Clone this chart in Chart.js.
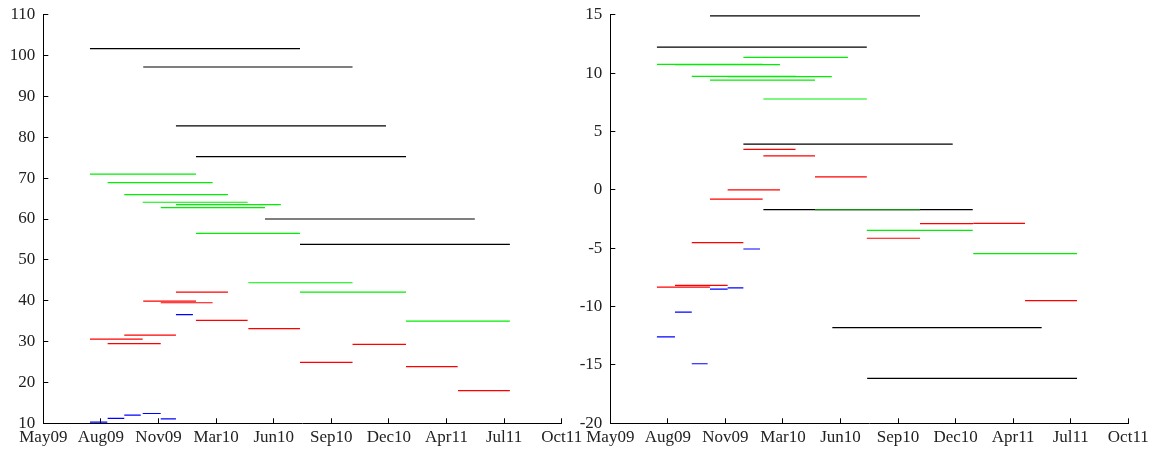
<!DOCTYPE html>
<html>
<head>
<meta charset="utf-8">
<script src="https://cdn.jsdelivr.net/npm/chart.js@4"></script>
<style>
  body { margin: 0; background: #fff; }
  #wrap { position: relative; width: 1163px; height: 452px; }
  .box { position: absolute; top: 0; height: 452px; }
</style>
</head>
<body>
<div id="wrap">
  <div class="box" style="left:0px;width:600px"><canvas id="leftChart"></canvas></div>
  <div class="box" style="left:575px;width:588px"><canvas id="rightChart"></canvas></div>
</div>
<script>
// x is months since 1 May 2009, ticks are spread evenly May09 .. Oct11
const xTickLabels = ['May09', 'Aug09', 'Nov09', 'Mar10', 'Jun10', 'Sep10', 'Dec10', 'Apr11', 'Jul11', 'Oct11']
const xTickVals = xTickLabels.map((l, i) => i * 29 / 9)

// each segment: [start month, end month, value]
const leftBlack = [[2.61, 14.36, 101.7], [5.59, 17.3, 97.2], [7.42, 19.17, 82.8], [8.54, 20.29, 75.25], [12.4, 24.14, 60.0], [14.36, 26.1, 53.8]]
const leftGreen = [[2.61, 8.54, 71.0], [3.6, 9.47, 68.9], [4.53, 10.33, 65.95], [5.56, 11.43, 64.1], [7.42, 13.29, 63.5], [6.57, 12.4, 62.8],
  [8.54, 14.36, 56.5], [11.47, 17.3, 44.4], [14.36, 20.29, 42.1], [20.29, 26.1, 35.0]]
const leftRed = [[2.61, 5.56, 30.6], [3.6, 6.57, 29.5], [4.53, 7.42, 31.6], [5.59, 8.54, 39.9], [6.57, 9.47, 39.5], [7.42, 10.33, 42.1],
  [8.54, 11.43, 35.2], [11.47, 14.36, 33.15], [17.3, 20.29, 29.3], [14.36, 17.3, 24.9], [20.29, 23.18, 23.85], [23.2, 26.1, 18.0]]
const leftBlue = [[2.61, 3.58, 10.3], [3.6, 4.53, 11.2], [4.53, 5.45, 12.0], [5.56, 6.57, 12.4], [6.57, 7.42, 11.1], [7.42, 8.37, 36.6]]

const rightBlack = [[5.58, 17.34, 14.9], [2.61, 14.36, 12.23], [7.45, 19.17, 3.92], [8.57, 20.29, -1.7], [12.43, 24.15, -11.8], [14.38, 26.13, -16.15]]
const rightDarkGreen = [[11.46, 17.34, -1.7]]
const rightGreen = [[2.61, 8.53, 10.75], [3.62, 9.5, 10.72], [7.45, 13.3, 11.35], [4.56, 10.4, 9.72], [6.57, 12.4, 9.7], [5.58, 11.46, 9.4],
  [8.57, 14.36, 7.78], [14.36, 20.29, -3.47], [20.32, 26.13, -5.47]]
const rightRed = [[7.45, 10.37, 3.47], [8.57, 11.46, 2.9], [11.46, 14.36, 1.1], [6.57, 9.5, 0.0], [5.58, 8.53, -0.79], [17.34, 20.32, -2.9],
  [20.32, 23.22, -2.88], [14.36, 17.34, -4.15], [23.22, 26.13, -9.5], [4.56, 7.45, -4.53], [2.61, 5.58, -8.33], [3.62, 6.57, -8.18]]
const rightBlue = [[7.45, 8.38, -5.07], [5.58, 6.57, -8.5], [6.57, 7.45, -8.4], [3.62, 4.56, -10.47], [2.61, 3.62, -12.6], [4.56, 5.45, -14.9]]

Chart.defaults.font.family = '"Liberation Serif", "DejaVu Serif", serif'
Chart.defaults.font.size = 17
Chart.defaults.color = '#222'

const segs = (list, color) => list.map(s => ({
  data: [{ x: s[0], y: s[2] }, { x: s[1], y: s[2] }],
  borderColor: color,
  borderWidth: 1.2,
  pointRadius: 0,
  showLine: true,
  fill: false
}))

const makeChart = (id, datasets, yMin, yMax, yStep, yWidth, padRight) => {
  return new Chart(document.getElementById(id), {
    type: 'scatter',
    data: { datasets: datasets },
    options: {
      responsive: true,
      maintainAspectRatio: false,
      animation: false,
      layout: { padding: { left: 0, top: 14.7, right: padRight, bottom: 0 } },
      plugins: { legend: { display: false }, tooltip: { enabled: false } },
      scales: {
        x: {
          type: 'linear',
          min: 0,
          max: 29,
          afterBuildTicks: s => { s.ticks = xTickVals.map(v => ({ value: v })) },
          afterFit: s => { s.height = 28.7; s.paddingLeft = 0; s.paddingRight = 0 },
          ticks: { autoSkip: false, maxRotation: 0, padding: 9.5, callback: (v, i) => xTickLabels[i] },
          grid: { display: true, drawOnChartArea: false, drawTicks: true, tickLength: -5, color: '#000' },
          border: { display: true, color: '#000', width: 1 }
        },
        y: {
          min: yMin,
          max: yMax,
          afterFit: s => { s.width = yWidth; s.paddingTop = 0; s.paddingBottom = 0 },
          ticks: { stepSize: yStep, padding: 13 },
          grid: { display: true, drawOnChartArea: false, drawTicks: true, tickLength: -5, color: '#000' },
          border: { display: true, color: '#000', width: 1 }
        }
      }
    }
  })
}

makeChart('leftChart',
  [...segs(leftBlue, '#0000ff'), ...segs(leftRed, '#ff0000'), ...segs(leftGreen, '#00ee00'), ...segs(leftBlack, '#000000')],
  10, 110, 10, 43.3, 38.3)

makeChart('rightChart',
  [...segs(rightDarkGreen, '#129212'), ...segs(rightBlue, '#0000ff'), ...segs(rightRed, '#ff0000'), ...segs(rightGreen, '#00ee00'), ...segs(rightBlack, '#000000')],
  -20, 15, 5, 35.3, 34.7)
</script>
</body>
</html>
